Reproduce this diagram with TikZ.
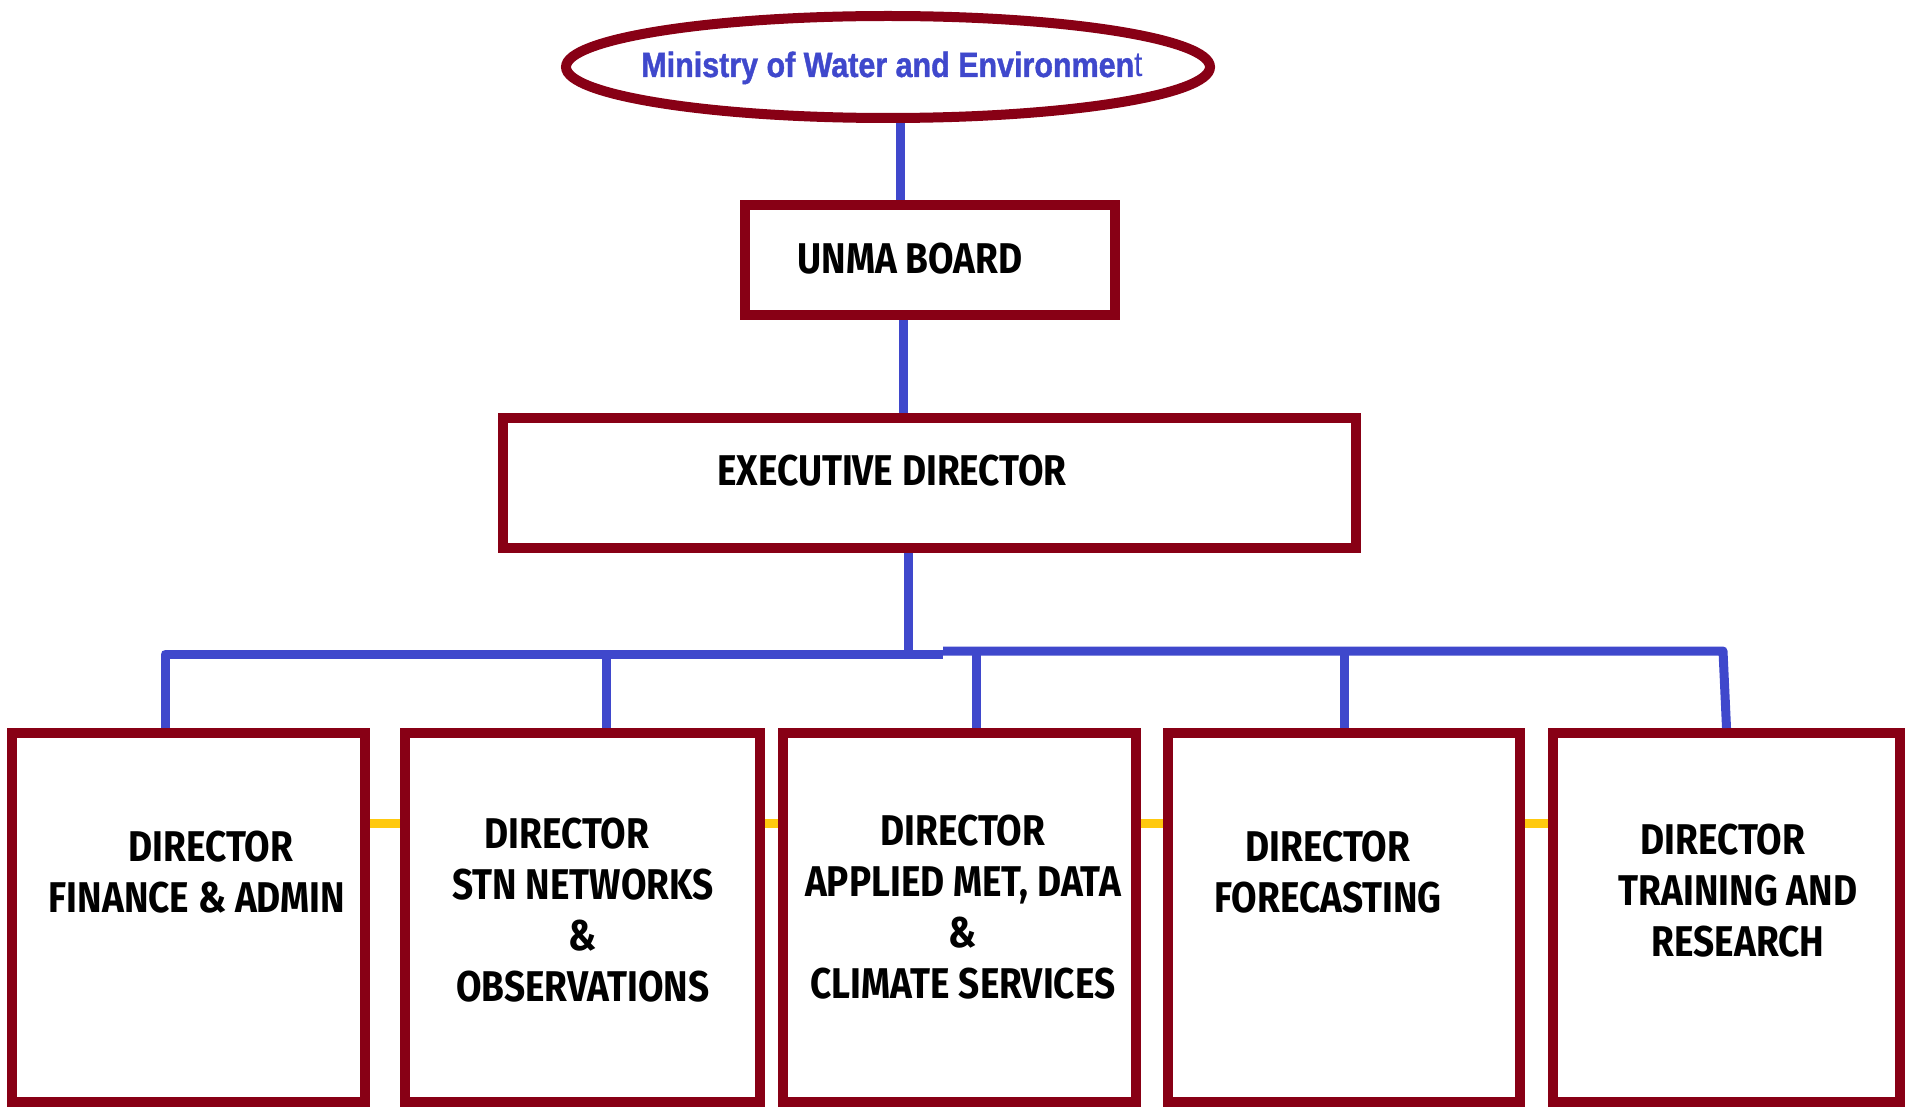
\documentclass[tikz,border=0pt]{standalone}
\usepackage{fontspec}
\newfontfamily\orgfont{Fira Sans}[FakeStretch=0.86]
\newfontfamily\ministryfont{Liberation Sans}[FakeStretch=0.87, BoldFeatures={FakeBold=1.2}]
\usepackage{tikz}
\usetikzlibrary{shapes.geometric}
\definecolor{unmared}{RGB}{136,0,21}
\definecolor{unmablue}{RGB}{63,72,204}
\definecolor{unmagold}{RGB}{255,201,14}
\tikzset{
    orgbox/.style={rectangle, draw=unmared, line width=10pt, inner sep=0pt},
    dirbox/.style={orgbox, minimum height=369pt},
    orgtext/.style={font=\orgfont\bfseries\fontsize{43}{51}\selectfont, align=center, inner sep=0pt},
    orgline/.style={draw=unmablue, line width=9pt, line join=round},
    sidelink/.style={draw=unmagold, line width=9pt},
}

\begin{document}
\begin{tikzpicture}[x=1pt, y=-1pt]
    \useasboundingbox (0,0) rectangle (1905,1107);

    % top of the chart
    \node[ellipse, draw=unmared, line width=10pt, inner sep=0pt,
          minimum width=644pt, minimum height=102pt] (ministry) at (888,67) {};
    \node[anchor=base, inner sep=0pt, text=unmablue,
          font=\ministryfont\bfseries\fontsize{35}{40}\selectfont]
          (ministrytext) at (892,77) {Ministry of Water and Environmen{\mdseries t}};
    \node[orgbox, minimum width=370pt, minimum height=110pt] (board) at (929.5,260) {};
    \node[orgtext] (boardtext) at (910,259) {UNMA BOARD};
    \node[orgbox, minimum width=853pt, minimum height=130pt] (exec) at (929.5,483) {};
    \node[orgtext] (exectext) at (892,471) {EXECUTIVE DIRECTOR};

    % directorates
    \node[dirbox, minimum width=353pt] (fin)     at (188.5,917.5) {};
    \node[dirbox, minimum width=355pt] (stn)     at (582.5,917.5) {};
    \node[dirbox, minimum width=353pt] (applied) at (959.5,917.5) {};
    \node[dirbox, minimum width=352pt] (fore)    at (1344,917.5) {};
    \node[dirbox, minimum width=347pt] (train)   at (1726.5,917.5) {};

    \node[orgtext] (fintext)     at (197,872.5) {\hspace*{28pt}DIRECTOR\\FINANCE \& ADMIN};
    \node[orgtext] (stntext)     at (583,910)   {DIRECTOR\hspace*{32pt}\\STN NETWORKS\\\&\\OBSERVATIONS};
    \node[orgtext] (appliedtext) at (963,907)   {DIRECTOR\\APPLIED MET, DATA\\\&\\CLIMATE SERVICES};
    \node[orgtext] (foretext)    at (1328,872)  {DIRECTOR\\FORECASTING};
    \node[orgtext] (traintext)   at (1738,891)  {DIRECTOR\hspace*{30pt}\\TRAINING AND\\RESEARCH};

    % blue reporting lines
    \coordinate (busW) at (165,654);
    \coordinate (busM) at (943,652.5);
    \coordinate (busE) at (1723,651);
    \coordinate (dropB) at (606,654);
    \coordinate (dropC) at (976,651);
    \coordinate (dropD) at (1344,651);

    \draw[orgline] ([xshift=12pt]ministry.south) -- ([xshift=-29.5pt]board.north);
    \draw[orgline] ([xshift=-26.5pt]board.south) -- ([xshift=-26.5pt]board.south |- exec.north);
    \draw[orgline] ([xshift=-21.5pt]exec.south) -- ([xshift=-21.5pt]exec.south |- busW);
    \draw[orgline] (busW |- fin.north) -- (busW) -- (busW -| busM);
    \draw[orgline] (busM |- busE) -- (busE) -- (train.north);
    \draw[orgline] (dropB) -- (dropB |- stn.north);
    \draw[orgline] (dropC) -- (dropC |- applied.north);
    \draw[orgline] (dropD) -- (dropD |- fore.north);

    % yellow links between the directorates
    \coordinate (linkrow) at (0,823);
    \draw[sidelink] (fin.east |- linkrow) -- (stn.west |- linkrow);
    \draw[sidelink] (stn.east |- linkrow) -- (applied.west |- linkrow);
    \draw[sidelink] (applied.east |- linkrow) -- (fore.west |- linkrow);
    \draw[sidelink] (fore.east |- linkrow) -- (train.west |- linkrow);
\end{tikzpicture}
\end{document}
